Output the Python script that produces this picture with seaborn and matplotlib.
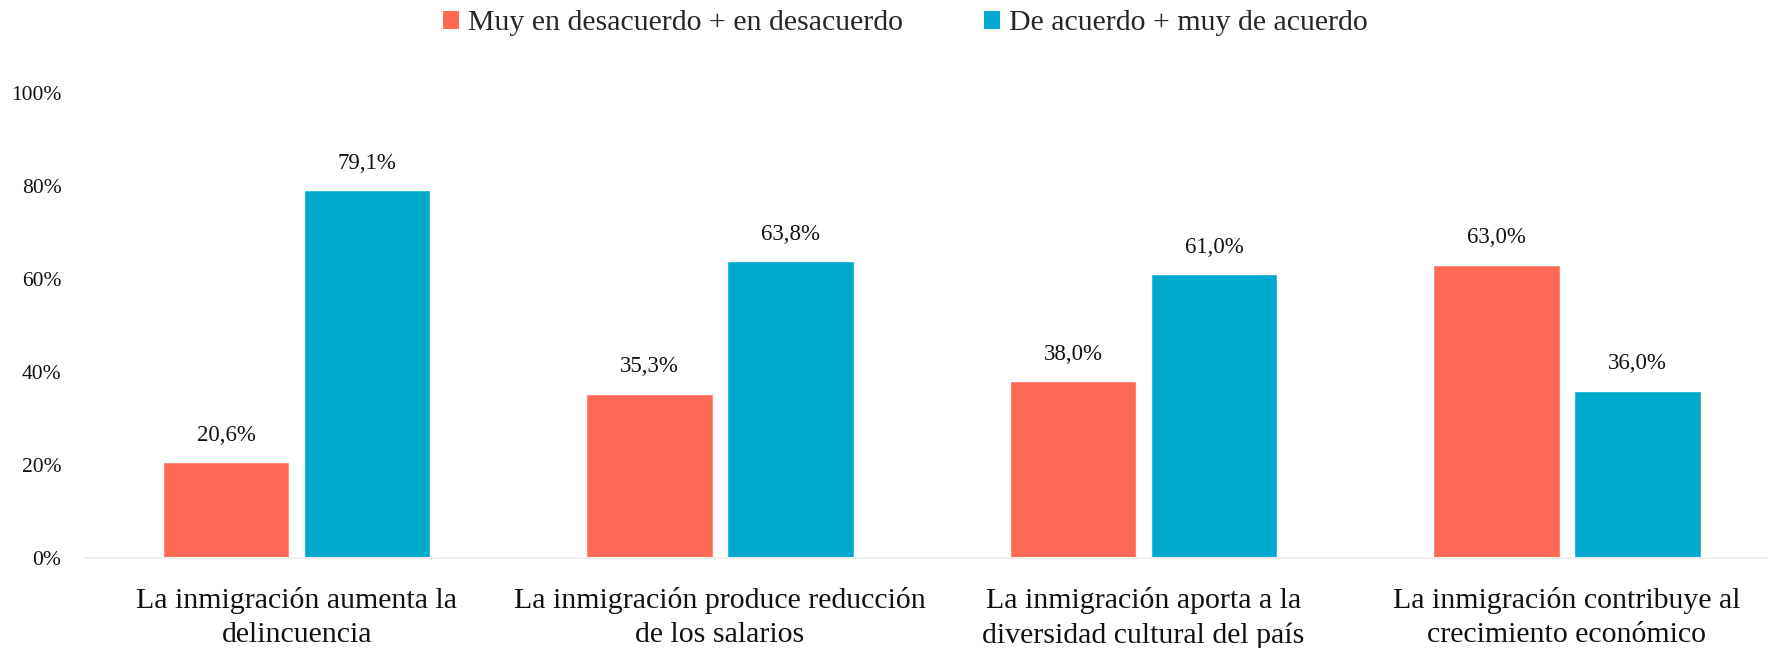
import matplotlib
matplotlib.use("Agg")
import matplotlib.pyplot as plt
import seaborn as sns
import pandas as pd
from matplotlib.patches import Patch

categories = [
    "La inmigración aumenta la\ndelincuencia",
    "La inmigración produce reducción\nde los salarios",
    "La inmigración aporta a la\ndiversidad cultural del país",
    "La inmigración contribuye al\ncrecimiento económico",
]
series_names = ["Muy en desacuerdo + en desacuerdo", "De acuerdo + muy de acuerdo"]
desacuerdo = [20.6, 35.3, 38.0, 63.0]
acuerdo = [79.1, 63.8, 61.0, 36.0]
yticks = [0, 20, 40, 60, 80, 100]
colors = ["#FF6955", "#00AACD"]

df = pd.DataFrame({
    "cat": categories * 2,
    "serie": [series_names[0]] * 4 + [series_names[1]] * 4,
    "valor": desacuerdo + acuerdo,
})

sns.set_theme(style="white")
plt.rcParams["font.family"] = ["Liberation Serif", "DejaVu Serif"]

fig = plt.figure(figsize=(17.68, 6.48), dpi=100)
ax = fig.add_axes([85 / 1768, 90 / 648, (1768 - 85) / 1768, (558 - 93) / 648])

sns.barplot(data=df, x="cat", y="valor", hue="serie", order=categories,
            hue_order=series_names, palette=colors, width=0.666, gap=0.104,
            saturation=1, ax=ax, legend=False)

for cont in ax.containers:
    labels = [f"{v:.1f}%".replace(".", ",") for v in cont.datavalues]
    ax.bar_label(cont, labels=labels, padding=12, fontsize=16.5, color="#111111")

ax.set_ylim(0, 100)
ax.set_xlim(-0.5, 3.475)
ax.set_yticks(yticks)
ax.set_yticklabels([f"{v}%" for v in yticks], fontsize=15.5, color="#111111")
ax.tick_params(axis="y", length=0, pad=17)
ax.tick_params(axis="x", length=0, pad=21, labelcolor="#111111")
for lbl in ax.get_xticklabels():
    lbl.set_fontsize(21.5)
    lbl.set_linespacing(1.4)
ax.set_xlabel("")
ax.set_ylabel("")
for s in ["top", "right", "left"]:
    ax.spines[s].set_visible(False)
ax.spines["bottom"].set_color("#EEEEEE")
ax.spines["bottom"].set_linewidth(1.5)
ax.grid(False)

handles = [Patch(facecolor=c, edgecolor="none") for c in colors]
fig.legend(handles, series_names, loc="center", bbox_to_anchor=(0.512, 0.964),
           ncol=2, frameon=False, fontsize=21.5, handlelength=0.55, handleheight=0.55,
           handletextpad=0.3, columnspacing=2.7)

fig.savefig("out.png", dpi=100, facecolor="white")
